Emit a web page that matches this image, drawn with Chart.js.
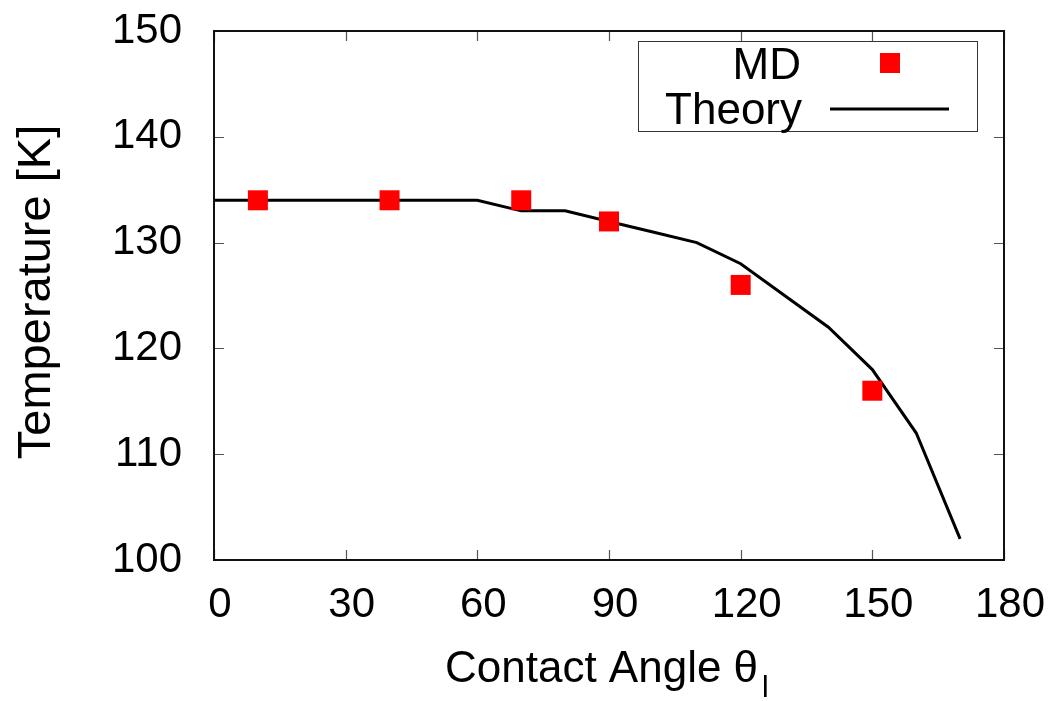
<!DOCTYPE html>
<html>
<head>
<meta charset="utf-8">
<script src="https://cdn.jsdelivr.net/npm/chart.js@4/dist/chart.umd.min.js"></script>
<style>
html,body{margin:0;padding:0;background:#fff;}
#wrap{width:1057px;height:701px;position:relative;}
</style>
</head>
<body>
<div id="wrap"><canvas id="c" width="1057" height="701"></canvas></div>
<script>
// ---- data ----
const mdAngles = [10, 40, 70, 90, 120, 150];
const mdTemps  = [134, 134, 134, 132, 126, 116];
const theoryAngles = [0, 10, 20, 30, 40, 50, 60, 70, 80, 90, 100, 110, 120, 130, 140, 150, 160, 170];
const theoryTemps  = [134, 134, 134, 134, 134, 134, 134, 133, 133, 132, 131, 130, 128, 125, 122, 118, 112, 102];
const xTicks = [0, 30, 60, 90, 120, 150, 180];
const yTicks = [100, 110, 120, 130, 140, 150];
const xTitle = 'Contact Angle θ';
const xTitleSub = 'l';
const yTitle = 'Temperature [K]';
const legendLabels = ['MD', 'Theory'];

const FONT = '"Liberation Sans", Arial, sans-serif';

const framePlugin = {
  id: 'frame',
  afterDatasetsDraw(chart) {
    const ctx = chart.ctx;
    const a = chart.chartArea;
    const xs = chart.scales.x, ys = chart.scales.y;
    ctx.save();
    // inward ticks, mirrored
    ctx.strokeStyle = '#555';
    ctx.lineWidth = 1.2;
    const tl = 10;
    ctx.beginPath();
    xTicks.forEach(v => {
      const px = Math.round(xs.getPixelForValue(v)) + 0.5;
      ctx.moveTo(px, a.bottom); ctx.lineTo(px, a.bottom - tl);
      ctx.moveTo(px, a.top); ctx.lineTo(px, a.top + tl);
    });
    yTicks.forEach(v => {
      const py = Math.round(ys.getPixelForValue(v)) + 0.5;
      ctx.moveTo(a.left, py); ctx.lineTo(a.left + tl, py);
      ctx.moveTo(a.right, py); ctx.lineTo(a.right - tl, py);
    });
    ctx.stroke();
    // frame
    ctx.strokeStyle = '#111';
    ctx.lineWidth = 2;
    ctx.strokeRect(a.left, a.top, a.right - a.left, a.bottom - a.top);

    // legend
    ctx.lineWidth = 1;
    ctx.strokeStyle = '#333';
    ctx.strokeRect(638.5, 41.5, 339, 90);
    ctx.fillStyle = '#000';
    ctx.font = '44px ' + FONT;
    ctx.textAlign = 'right';
    ctx.textBaseline = 'alphabetic';
    ctx.fillText(legendLabels[0], 801, 79);
    ctx.fillText(legendLabels[1], 802, 124);
    ctx.fillStyle = '#ff0000';
    ctx.fillRect(880, 53, 20, 20);
    ctx.strokeStyle = '#000';
    ctx.lineWidth = 3;
    ctx.beginPath();
    ctx.moveTo(830, 109); ctx.lineTo(949, 109);
    ctx.stroke();

    // axis titles
    ctx.fillStyle = '#000';
    ctx.font = '44px ' + FONT;
    ctx.textAlign = 'left';
    ctx.fillText(xTitle, 445, 682);
    const w = ctx.measureText(xTitle).width;
    ctx.font = '30px ' + FONT;
    ctx.fillText(xTitleSub, 445 + w + 4, 697);

    ctx.save();
    ctx.font = '47px ' + FONT;
    ctx.translate(50, 292);
    ctx.rotate(-Math.PI / 2);
    ctx.textAlign = 'center';
    ctx.fillText(yTitle, 0, 0);
    ctx.restore();
    ctx.restore();
  }
};

new Chart(document.getElementById('c'), {
  type: 'line',
  data: {
    datasets: [
      {
        label: legendLabels[1],
        data: theoryAngles.map((x, i) => ({x, y: theoryTemps[i]})),
        borderColor: '#000',
        borderWidth: 3,
        pointRadius: 0,
        tension: 0,
        fill: false,
        order: 2
      },
      {
        label: legendLabels[0],
        data: mdAngles.map((x, i) => ({x, y: mdTemps[i]})),
        showLine: false,
        pointStyle: 'rect',
        pointRadius: 14.14,
        pointHoverRadius: 14.14,
        pointBackgroundColor: '#ff0000',
        pointBorderWidth: 0,
        backgroundColor: '#ff0000',
        borderColor: '#ff0000',
        order: 1
      }
    ]
  },
  options: {
    responsive: false,
    animation: false,
    events: [],
    layout: { padding: { top: 31, right: 53, left: 0, bottom: 0 } },
    plugins: { legend: { display: false }, tooltip: { enabled: false } },
    scales: {
      x: {
        type: 'linear',
        min: 0, max: 180,
        afterBuildTicks(s) { s.ticks = xTicks.map(v => ({value: v})); },
        afterFit(s) { s.height = 141; s.paddingLeft = 0; s.paddingRight = 0; },
        grid: { display: false, drawTicks: false, tickLength: 0 },
        border: { display: false },
        ticks: { color: '#000', font: { family: FONT, size: 42 }, padding: 20, maxRotation: 0, labelOffset: 6 }
      },
      y: {
        type: 'linear',
        min: 100, max: 150,
        afterBuildTicks(s) { s.ticks = yTicks.map(v => ({value: v})); },
        afterFit(s) { s.width = 214; s.paddingTop = 0; s.paddingBottom = 0; },
        grid: { display: false, drawTicks: false, tickLength: 0 },
        border: { display: false },
        ticks: { color: '#000', font: { family: FONT, size: 42 }, padding: 32 }
      }
    }
  },
  plugins: [framePlugin]
});
</script>
</body>
</html>
